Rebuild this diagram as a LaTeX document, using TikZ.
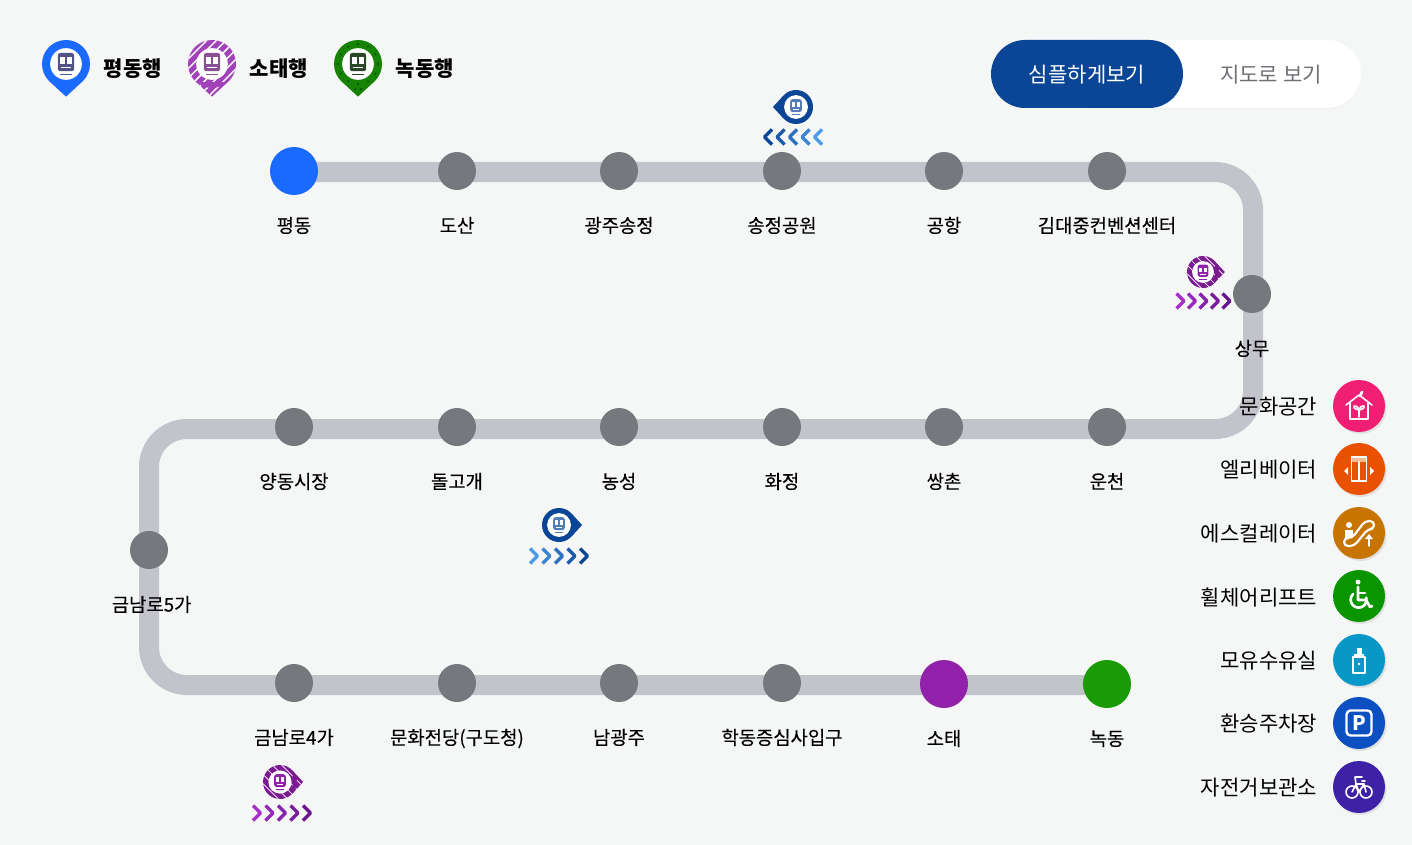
\documentclass[tikz,border=0pt]{standalone}
\usepackage{xcolor}
\usepackage{fontspec}
\setmainfont{Noto Sans CJK KR}
\newfontfamily\medfont[FakeBold=0.25]{Noto Sans CJK KR}
\usetikzlibrary{positioning, shadows, backgrounds}
\definecolor{bgcol}{HTML}{F5F7F7}
\definecolor{trackcol}{HTML}{C3C4CB}
\definecolor{stopcol}{HTML}{77787E}
\definecolor{navycol}{HTML}{0B4596}
\definecolor{bluecol}{HTML}{1A6AFF}
\definecolor{purplecol}{HTML}{9120AB}
\definecolor{greencol}{HTML}{1A9A05}
\definecolor{skycol}{HTML}{4A9BE8}
\definecolor{lilaccol}{HTML}{A52FC8}
\definecolor{plumcol}{HTML}{6A1590}
\definecolor{greytext}{HTML}{6E7075}
\definecolor{pinkcol}{HTML}{F01F73}
\definecolor{orangecol}{HTML}{E95000}
\definecolor{browncol}{HTML}{C87400}
\definecolor{grasscol}{HTML}{0A9400}
\definecolor{tealcol}{HTML}{0898C8}
\definecolor{cobaltcol}{HTML}{0B4FC0}
\definecolor{violetcol}{HTML}{3D22A8}
\newcommand{\trainglyph}[1]{%
  \fill[#1,rounded corners=1.8pt] (-0.34,-0.46) rectangle (0.34,0.3);
  \fill[white] (-0.24,-0.28) rectangle (-0.04,0);
  \fill[white] (0.04,-0.28) rectangle (0.24,0);
  \fill[white] (-0.2,0.11) rectangle (0.2,0.16);
  \draw[#1,line width=0.8pt] (-0.26,0.44) -- (0.26,0.44);
}
\newcommand{\pinhead}[1]{%
  \fill[#1] (0,0) circle [radius=1];
  \fill[#1] (-0.67,0.74) -- (0,1.36) -- (0.67,0.74) -- cycle;
}
% stripes over a pin that points down in its own frame
\newcommand{\pinstripes}[2]{%
  \begin{scope}
  \clip (0,0) circle [radius=1] (-0.67,0.74) -- (0,1.36) -- (0.67,0.74) -- cycle;
  \foreach \k in {#2} \draw[white, line width=#1] (\k-1.5,1.5) -- (\k+1.5,-1.5);
  \end{scope}
}
\newcommand{\chevrons}[6]{%
  \foreach \i in {0,...,4} {
    \pgfmathsetmacro{\mixval}{100-\i*25}
    \draw[#4!\mixval!#5, line width=2.6pt, line join=round]
      (#1+\i*#6-#3*4,#2-7.5) -- (#1+\i*#6+#3*3.5,#2) -- (#1+\i*#6-#3*4,#2+7.5);
  }
}
\tikzset{
  stopdot/.style={circle, fill=stopcol, minimum size=28.5pt, inner sep=0},
  bigstop/.style={circle, minimum size=36pt, inner sep=0},
  stoplabel/.style={font=\fontsize{14.1}{15}\medfont, text height=12pt, text depth=3pt, inner sep=0, yshift=-0.75pt},
  legendtext/.style={font=\fontsize{15.8}{18}\selectfont\bfseries, inner sep=0},
  factext/.style={font=\fontsize{15.8}{18}\selectfont, inner sep=0},
  facdot/.style={circle, minimum size=39pt, inner sep=0, drop shadow={opacity=0.18, shadow xshift=1.2pt, shadow yshift=-1.5pt}},
  facline/.style={white, line width=1.2pt, line join=round, line cap=round},
  pics/househ/.style={code={
    \draw[facline] (-13,-1) -- (0,-11) -- (13,-1);
    \draw[facline] (-9,-3) -- (-9,13) -- (9,13) -- (9,-3);
    \draw[facline, line width=2pt] (1,-10) -- (3,-14);
    \draw[facline] (0,11) -- (0,3);
    \draw[facline] (0,4) .. controls (-5,3) and (-6,1) .. (-5,0) .. controls (-2,0) .. (0,4);
    \draw[facline] (0,4) .. controls (5,3) and (6,1) .. (5,0) .. controls (2,0) .. (0,4);
  }},
  pics/lifth/.style={code={
    \draw[facline] (-7.5,-12) rectangle (7.5,12);
    \fill[white, opacity=0.6] (-7.5,-12) rectangle (7.5,-7);
    \draw[facline] (0,-7) -- (0,12);
    \fill[white] (-15,2) -- (-11,-2) -- (-11,6) -- cycle;
    \fill[white] (15,2) -- (11,-2) -- (11,6) -- cycle;
  }},
  pics/escalh/.style={code={
    \fill[white] (-10,-8) circle [radius=3];
    \fill[white] (-14,-3) rectangle (-6,5);
    \draw[facline, line width=1.6pt, rounded corners=3pt] (-15,13) -- (-5,13) -- (9,-4) -- (15,-4) -- (15,-12) -- (6,-12) -- (-7,5) -- (-15,5) -- cycle;
    \draw[facline] (10,13) -- (10,3);
    \fill[white] (6,6) -- (10,1) -- (14,6) -- cycle;
  }},
  pics/wheelh/.style={code={
    \fill[white] (-1,-14) circle [radius=2.5];
    \draw[facline, line width=2pt] (-1,-9) -- (-1,4) -- (7,4) -- (11,11) -- (13,10);
    \draw[facline, line width=2pt] (-1,-3) -- (6,-3);
    \draw[facline, line width=2pt] (-6,-2) arc [start angle=225, end angle=-15, radius=8];
  }},
  pics/bottleh/.style={code={
    \draw[facline] (-6,-3) rectangle (6,13);
    \fill[white] (-5,-6) rectangle (5,-3);
    \fill[white] (-2.5,-12) rectangle (2.5,-6);
    \fill[white] (0,4) circle [radius=1.4];
  }},
  pics/parkh/.style={code={
    \draw[facline, line width=1.8pt, rounded corners=3pt] (-12.5,-12.5) rectangle (12.5,12.5);
    \node[white, font=\fontsize{15}{15}\selectfont\bfseries, inner sep=0] at (0,0) {P};
  }},
  pics/bikeh/.style={code={
    \draw[facline] (-7,5) circle [radius=6];
    \draw[facline] (7,5) circle [radius=6];
    \draw[facline] (-7,5) -- (-3,-3) -- (5,-3) -- (7,5);
    \draw[facline] (-3,-3) -- (0,5) -- (5,-3);
    \draw[facline] (-3,-3) -- (-4,-10) -- (3,-10);
    \draw[facline] (3,-6) -- (6,-6);
  }},
}
\begin{document}
\begin{tikzpicture}[x=0.75pt, y=-0.75pt]
\begin{scope}[on background layer]
\fill[bgcol] (0,0) rectangle (1412,845);
\end{scope}
\useasboundingbox (0,0) rectangle (1412,845);

% legend
\begin{scope}[shift={(66,64)}, scale=24]
\pinhead{bluecol}
\fill[white] (0,0) circle [radius=0.66];
\trainglyph{black!40!blue!35!gray}
\end{scope}
\begin{scope}[shift={(212,64)}, scale=24]
\pinhead{purplecol!85!white}
\pinstripes{1.1pt}{-2.4,-2.0,...,2.4}
\fill[white] (0,0) circle [radius=0.66];
\trainglyph{purplecol!50!gray}
\end{scope}
\begin{scope}[shift={(358,64)}, scale=24]
\pinhead{greencol!85!black}
\foreach \a in {0,30,...,330} \fill[green!25!black] (\a:0.83) circle [radius=0.04];
\fill[green!25!black] (-0.12,1.05) circle [radius=0.04] (0.12,1.05) circle [radius=0.04];
\fill[white] (0,0) circle [radius=0.66];
\trainglyph{greencol!30!black!70!gray}
\end{scope}
\node[legendtext] (legendblue) at (133,69) {평동행};
\node[legendtext] (legendpurple) at (279,69) {소태행};
\node[legendtext] (legendgreen) at (425,69) {녹동행};

% toggle
\node[fill=white, rounded corners=25.5pt, minimum width=225pt, minimum height=51pt, drop shadow={opacity=0.05, shadow xshift=0pt, shadow yshift=-1pt}] (togglebg) at (1211,74) {};
\node[fill=navycol, rounded corners=25.5pt, minimum width=144pt, minimum height=51pt] (simple) at (1087,74) {};
\node[white, font=\fontsize{15.8}{18}\selectfont, inner sep=0] (simpletext) at (1087,75) {심플하게보기};
\node[greytext, font=\fontsize{15.8}{18}\selectfont, inner sep=0] (maptext) at (1271,75) {지도로 보기};

% stations
\node[bigstop, fill=bluecol] (pyeongdong) at (294,171) {};
\node[stopdot] (dosan) at (457,171) {};
\node[stopdot] (gwangju) at (619,171) {};
\node[stopdot] (songjeong) at (782,171) {};
\node[stopdot] (gonghang) at (944,171) {};
\node[stopdot] (kimdj) at (1107,171) {};
\node[stopdot] (sangmu) at (1252,294) {};
\node[stopdot] (uncheon) at (1107,427) {};
\node[stopdot] (ssangchon) at (944,427) {};
\node[stopdot] (hwajeong) at (782,427) {};
\node[stopdot] (nongseong) at (619,427) {};
\node[stopdot] (dolgogae) at (457,427) {};
\node[stopdot] (yangdong) at (294,427) {};
\node[stopdot] (geumnam5) at (149,550) {};
\node[stopdot] (geumnam4) at (294,683) {};
\node[stopdot] (munhwa) at (457,683) {};
\node[stopdot] (namgwangju) at (619,683) {};
\node[stopdot] (hakdong) at (782,683) {};
\node[bigstop, fill=purplecol] (sotae) at (944,684) {};
\node[bigstop, fill=greencol] (nokdong) at (1107,684) {};

% track
\coordinate (cornerne) at (1253,172);
\coordinate (cornerse) at (1253,429);
\coordinate (cornernw) at (149,429);
\coordinate (cornersw) at (149,685);
\begin{scope}[on background layer]
\draw[trackcol, line width=15pt, rounded corners=28.5pt]
  (pyeongdong.center |- cornerne) -- (cornerne) -- (cornerse) -- (cornernw) -- (cornersw) -- (nokdong.center |- cornersw);
\end{scope}

% station names
\node[stoplabel, below=15pt of pyeongdong] (pyeongdonglabel) {평동};
\node[stoplabel, below=18.75pt of dosan] (dosanlabel) {도산};
\node[stoplabel, below=18.75pt of gwangju] (gwangjulabel) {광주송정};
\node[stoplabel, below=18.75pt of songjeong] (songjeonglabel) {송정공원};
\node[stoplabel, below=18.75pt of gonghang] (gonghanglabel) {공항};
\node[stoplabel, below=18.75pt of kimdj] (kimdjlabel) {김대중컨벤션센터};
\node[stoplabel, below=18.75pt of sangmu] (sangmulabel) {상무};
\node[stoplabel, below=18.75pt of uncheon] (uncheonlabel) {운천};
\node[stoplabel, below=18.75pt of ssangchon] (ssangchonlabel) {쌍촌};
\node[stoplabel, below=18.75pt of hwajeong] (hwajeonglabel) {화정};
\node[stoplabel, below=18.75pt of nongseong] (nongseonglabel) {농성};
\node[stoplabel, below=18.75pt of dolgogae] (dolgogaelabel) {돌고개};
\node[stoplabel, below=18.75pt of yangdong] (yangdonglabel) {양동시장};
\node[stoplabel, below=18.75pt of geumnam5, xshift=2pt] (geumnam5label) {금남로5가};
\node[stoplabel, below=18.75pt of geumnam4] (geumnam4label) {금남로4가};
\node[stoplabel, below=18.75pt of munhwa] (munhwalabel) {문화전당(구도청)};
\node[stoplabel, below=18.75pt of namgwangju] (namgwangjulabel) {남광주};
\node[stoplabel, below=18.75pt of hakdong] (hakdonglabel) {학동증심사입구};
\node[stoplabel, below=15pt of sotae] (sotaelabel) {소태};
\node[stoplabel, below=15pt of nokdong] (nokdonglabel) {녹동};

% running trains
\begin{scope}[shift={(796,107)}, scale=17]
\begin{scope}[rotate=-90]
\pinhead{navycol}
\end{scope}
\fill[white] (0,0) circle [radius=0.7];
\trainglyph{navycol!70!white}
\end{scope}
\chevrons{768}{137}{-1}{navycol}{skycol}{12.5}
\begin{scope}[shift={(1203,272)}, scale=16]
\begin{scope}[rotate=90]
\pinhead{purplecol!85!black}
\pinstripes{0.5pt}{-1.1,-0.55,0,0.55,1.1}
\end{scope}
\fill[white] (0,0) circle [radius=0.68];
\trainglyph{purplecol}
\end{scope}
\chevrons{1180.5}{301}{1}{lilaccol}{plumcol}{11.5}
\begin{scope}[shift={(559,525)}, scale=17]
\begin{scope}[rotate=90]
\pinhead{navycol}
\end{scope}
\fill[white] (0,0) circle [radius=0.7];
\trainglyph{navycol!70!white}
\end{scope}
\chevrons{534}{556}{1}{skycol}{navycol}{12.5}
\begin{scope}[shift={(280,782)}, scale=17]
\begin{scope}[rotate=90]
\pinhead{purplecol!85!black}
\pinstripes{0.5pt}{-1.1,-0.55,0,0.55,1.1}
\end{scope}
\fill[white] (0,0) circle [radius=0.68];
\trainglyph{purplecol}
\end{scope}
\chevrons{257}{813}{1}{lilaccol}{plumcol}{12.5}

% facilities
\node[facdot, fill=pinkcol] (culture) at (1359,406) {};
\node[facdot, fill=orangecol] (lift) at (1359,469) {};
\node[facdot, fill=browncol] (escalator) at (1359,533) {};
\node[facdot, fill=grasscol] (wheelchair) at (1359,596) {};
\node[facdot, fill=tealcol] (nursing) at (1359,660) {};
\node[facdot, fill=cobaltcol] (parking) at (1359,723) {};
\node[facdot, fill=violetcol] (bicycle) at (1359,787) {};
\path (culture) pic {househ};
\path (lift) pic {lifth};
\path (escalator) pic {escalh};
\path (wheelchair) pic {wheelh};
\path (nursing) pic {bottleh};
\path (parking) pic {parkh};
\path (bicycle) pic {bikeh};
\node[factext, left=11.5pt of culture, yshift=-0.75pt] (culturetext) {문화공간};
\node[factext, left=11.5pt of lift, yshift=-0.75pt] (lifttext) {엘리베이터};
\node[factext, left=11.5pt of escalator, yshift=-0.75pt] (escalatortext) {에스컬레이터};
\node[factext, left=11.5pt of wheelchair, yshift=-0.75pt] (wheelchairtext) {휠체어리프트};
\node[factext, left=11.5pt of nursing, yshift=-0.75pt] (nursingtext) {모유수유실};
\node[factext, left=11.5pt of parking, yshift=-0.75pt] (parkingtext) {환승주차장};
\node[factext, left=11.5pt of bicycle, yshift=-0.75pt] (bicycletext) {자전거보관소};
\end{tikzpicture}
\end{document}
